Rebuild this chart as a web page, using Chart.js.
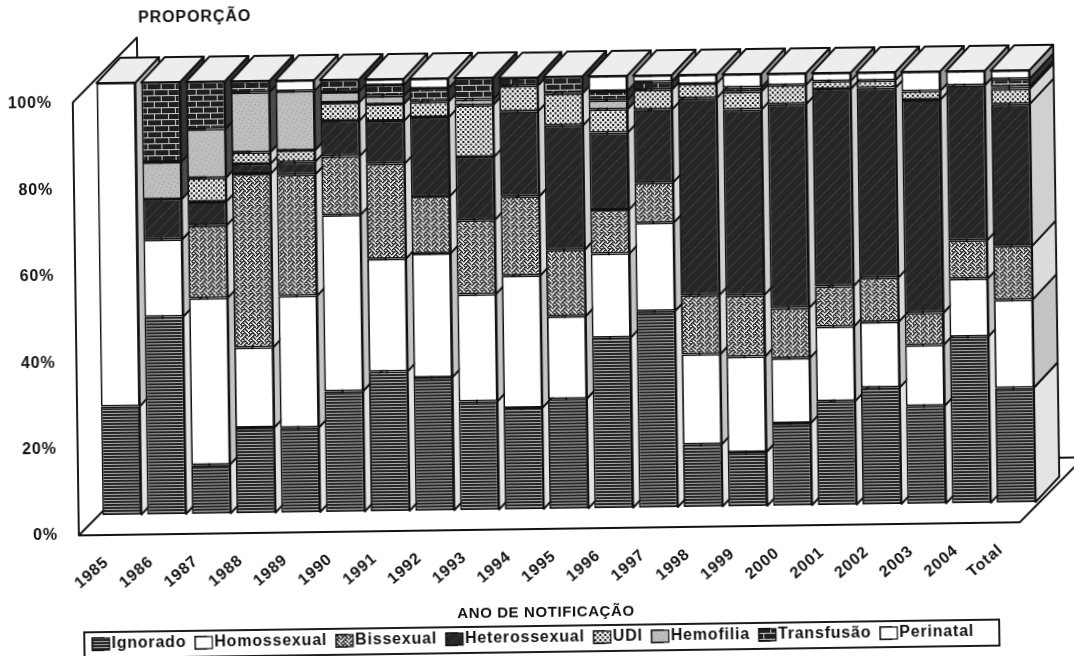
<!DOCTYPE html>
<html>
<head>
<meta charset="utf-8">
<script src="https://cdn.jsdelivr.net/npm/chart.js@4"></script>
<style>
    html, body { margin: 0; background: #fff; overflow: hidden; }
    #wrap { width: 1074px; height: 656px; transform: rotate(-0.8deg); filter: blur(0.4px); }
</style>
</head>
<body>
<div id="wrap"><canvas id="chart" width="1074" height="656"></canvas></div>
<script>
// Values (% of cases per year)
const years = ["1985", "1986", "1987", "1988", "1989", "1990", "1991", "1992", "1993", "1994", "1995",
    "1996", "1997", "1998", "1999", "2000", "2001", "2002", "2003", "2004", "Total"];
const ignorado = [25.1, 45.7, 11.3, 19.7, 19.6, 27.9, 32.3, 30.8, 25.1, 23.4, 25.4, 39.4, 45.4, 14.4, 12.5, 19, 24, 27, 22.6, 38.5, 26.5];
const homossexual = [74.9, 17.9, 38.6, 18.6, 30.5, 40.8, 26.1, 28.7, 24.8, 30.7, 19.1, 19.5, 20.5, 20.9, 22.1, 15.1, 17.3, 15.2, 14.1, 13.4, 20.4];
const bissexual = [0, 0, 16.8, 40.2, 28.1, 13.6, 22, 13.2, 17.2, 18.3, 15.4, 10.1, 9.3, 13.7, 14.2, 11.6, 9.3, 10.2, 7.4, 8.9, 12.4];
const heterossexual = [0, 9.3, 5.5, 2.3, 2.9, 8.2, 9.9, 18.3, 14.6, 19.7, 28.8, 17.9, 16.9, 45.6, 43, 47.2, 45.7, 44, 49.4, 35.9, 32.9];
const udi = [0, 0, 5.5, 2.7, 2.7, 4.2, 3.9, 3.6, 12, 5.9, 7.4, 5.4, 4.6, 3.3, 4.1, 4.4, 1.8, 1.7, 2, 0, 3.5];
const hemofilia = [0, 8.6, 11.3, 13.9, 13.7, 2.5, 1.9, 0, 1.3, 0, 0, 2.1, 0, 0, 0, 0, 0, 0, 0, 0, 0.5];
const transfusao = [0, 18.5, 11, 2.6, 0, 2.8, 2.5, 3.1, 5, 1.9, 3.9, 2.1, 1.8, 0, 1, 0, 0, 0, 0, 0, 1.8];
const perinatal = [0, 0, 0, 0, 2.5, 0, 1.4, 2.3, 0, 0, 0, 3.5, 1.5, 2.1, 3.1, 2.7, 1.9, 1.9, 4.5, 3.3, 2];

const FONT = "'Liberation Sans', Arial, sans-serif";

// Small tile -> canvas pattern
function tile(w, h, draw) {
    const c = document.createElement("canvas");
    c.width = w;
    c.height = h;
    const g = c.getContext("2d");
    draw(g);
    return g.createPattern(c, "repeat");
}

const linesFill = tile(4, 3, g => {
    g.fillStyle = "#262626"; g.fillRect(0, 0, 4, 3);
    g.fillStyle = "#a8a8a8"; g.fillRect(0, 2, 4, 1);
});

// GDI style weave bitmap, thickened to read as dark as the print
const weaveBits = [0x88, 0x54, 0x22, 0x45, 0x88, 0x14, 0x22, 0x51];
const weaveFill = tile(8, 8, g => {
    g.fillStyle = "#f4f4f4"; g.fillRect(0, 0, 8, 8);
    g.fillStyle = "#1c1c1c";
    weaveBits.forEach((row, y) => {
        for (let x = 0; x < 8; x++) {
            if (row & (0x80 >> x)) g.fillRect(x, y, 1.6, 1.3);
        }
    });
});

const darkFill = tile(11, 11, g => {
    g.fillStyle = "#262626"; g.fillRect(0, 0, 11, 11);
    g.strokeStyle = "#414141"; g.lineWidth = 1;
    g.beginPath(); g.moveTo(0, 11); g.lineTo(11, 0); g.stroke();
});

const dotsFill = tile(5, 5, g => {
    g.fillStyle = "#ededed"; g.fillRect(0, 0, 5, 5);
    g.fillStyle = "#1c1c1c";
    g.fillRect(0, 0, 2, 2);
    g.fillRect(2.5, 2.5, 2, 2);
});

const speckFill = tile(9, 9, g => {
    g.fillStyle = "#bdbdbd"; g.fillRect(0, 0, 9, 9);
    g.fillStyle = "#999";
    g.fillRect(1, 2, 1, 1); g.fillRect(6, 1, 1, 1); g.fillRect(4, 5, 1, 1); g.fillRect(8, 7, 1, 1); g.fillRect(2, 8, 1, 1);
});

const brickFill = tile(14, 12, g => {
    g.fillStyle = "#1f1f1f"; g.fillRect(0, 0, 14, 12);
    g.fillStyle = "#ccc";
    g.fillRect(0, 0, 14, 1);
    g.fillRect(0, 6, 14, 1);
    g.fillRect(3, 0, 1, 6);
    g.fillRect(10, 6, 1, 6);
});

// Front fill, side fill of each series
const seriesNames = ["Ignorado", "Homossexual", "Bissexual", "Heterossexual", "UDI", "Hemofilia", "Transfusão", "Perinatal"];
const seriesValues = [ignorado, homossexual, bissexual, heterossexual, udi, hemofilia, transfusao, perinatal];
const frontFills = [linesFill, "#fff", weaveFill, darkFill, dotsFill, speckFill, brickFill, "#fff"];
const sideFills = ["#e3e3e3", "#c4c4c4", "#dcdcdc", "#d0d0d0", "#d6d6d6", "#4a4a4a", "#333", "#999"];

// Oblique depth of a bar
const barDepthX = 24;
const barDepthY = 25;

const box3d = {
    id: "box3d",
    // the canvas is reset when Chart.js sizes it, so spacing goes on here
    beforeLayout(chart) {
        chart.ctx.letterSpacing = "0.8px";
    },
    beforeDraw(chart) {
        chart.ctx.letterSpacing = "0.8px";
    },
    beforeDatasetsDraw(chart) {
        const ctx = chart.ctx;
        const a = chart.chartArea;
        ctx.save();
        ctx.strokeStyle = "#111";
        ctx.lineWidth = 1.9;
        ctx.lineJoin = "round";

        // wall and floor
        const fx = a.left - 21, fy = a.bottom + 20, topY = a.top + 19, dx = 65, dy = 64, rx = a.right - 19;
        ctx.beginPath();
        ctx.moveTo(fx + dx, topY - dy + 50);
        ctx.lineTo(fx + dx, topY - dy);
        ctx.lineTo(fx, topY);
        ctx.lineTo(fx, fy);
        ctx.lineTo(rx, fy);
        ctx.lineTo(rx + dx, fy - dy);
        ctx.moveTo(fx, fy);
        ctx.lineTo(fx + dx, fy - dy);
        ctx.lineTo(rx + dx, fy - dy);
        ctx.stroke();

        // right side and top of every bar, left to right
        const metas = seriesValues.map((v, i) => chart.getDatasetMeta(i));
        years.forEach((year, j) => {
            metas.forEach((meta, i) => {
                const bar = meta.data[j];
                if (bar.base - bar.y < 0.1) return;
                const r = bar.x + bar.width / 2;
                ctx.beginPath();
                ctx.moveTo(r, bar.base);
                ctx.lineTo(r + barDepthX, bar.base - barDepthY);
                ctx.lineTo(r + barDepthX, bar.y - barDepthY);
                ctx.lineTo(r, bar.y);
                ctx.closePath();
                ctx.fillStyle = sideFills[i];
                ctx.fill();
                ctx.stroke();
            });
            const top = metas[metas.length - 1].data[j];
            const l = top.x - top.width / 2, r = top.x + top.width / 2;
            ctx.beginPath();
            ctx.moveTo(l, top.y);
            ctx.lineTo(l + barDepthX, top.y - barDepthY);
            ctx.lineTo(r + barDepthX, top.y - barDepthY);
            ctx.lineTo(r, top.y);
            ctx.closePath();
            ctx.fillStyle = "#ededed";
            ctx.fill();
            ctx.stroke();
        });
        ctx.restore();
    },
    afterDraw(chart) {
        const ctx = chart.ctx;
        ctx.save();
        ctx.fillStyle = "#111";
        ctx.textAlign = "center";
        ctx.textBaseline = "middle";
        ctx.font = "bold 16px " + FONT;
        ctx.letterSpacing = "0.9px";
        ctx.fillText("PROPORÇÃO", 199, 13);
        ctx.font = "bold 15px " + FONT;
        ctx.letterSpacing = "0.6px";
        ctx.fillText("ANO DE NOTIFICAÇÃO", 542, 613);

        // legend frame and wider swatches
        ctx.strokeStyle = "#111";
        ctx.lineWidth = 1.9;
        ctx.strokeRect(80, 626, 915, 26);
        chart.legend.legendHitBoxes.forEach((hit, i) => {
            ctx.fillStyle = frontFills[i];
            ctx.fillRect(hit.left, hit.top + 2, 17, 12);
            ctx.lineWidth = 1.2;
            ctx.strokeRect(hit.left, hit.top + 2, 17, 12);
        });
        ctx.restore();
    }
};

new Chart(document.getElementById("chart").getContext("2d"), {
    type: "bar",
    data: {
        labels: years,
        datasets: seriesNames.map((name, i) => ({
            label: name,
            data: seriesValues[i],
            backgroundColor: frontFills[i],
            borderColor: "#111",
            borderWidth: 1.8,
            borderSkipped: false
        }))
    },
    options: {
        responsive: false,
        animation: false,
        layout: { padding: { left: 0, right: 16, top: 77, bottom: 0 } },
        datasets: { bar: { barPercentage: 0.872, categoryPercentage: 1 } },
        plugins: {
            tooltip: { enabled: false },
            legend: {
                position: "bottom",
                labels: {
                    boxWidth: 11,
                    boxHeight: 12,
                    padding: 9,
                    color: "#111",
                    font: { family: FONT, size: 16, weight: "bold" }
                }
            }
        },
        scales: {
            x: {
                stacked: true,
                grid: { display: false },
                border: { display: false },
                afterFit: s => { s.height = 112; },
                ticks: {
                    autoSkip: false,
                    minRotation: 40,
                    maxRotation: 40,
                    padding: 30,
                    labelOffset: -16,
                    color: "#111",
                    font: { family: FONT, size: 16, weight: "bold" }
                }
            },
            y: {
                stacked: true,
                min: 0,
                max: 100,
                grid: { display: false },
                border: { display: false },
                afterFit: s => { s.width = 97; },
                ticks: {
                    stepSize: 20,
                    padding: 34,
                    labelOffset: 20,
                    color: "#111",
                    font: { family: FONT, size: 16, weight: "bold" },
                    callback: v => v + "%"
                }
            },
            // empty axis, only keeps the plot clear of the right edge
            spacer: {
                position: "right",
                grid: { display: false },
                border: { display: false },
                ticks: { display: false },
                afterFit: s => { s.width = 22; }
            }
        }
    },
    plugins: [box3d]
});
</script>
</body>
</html>
